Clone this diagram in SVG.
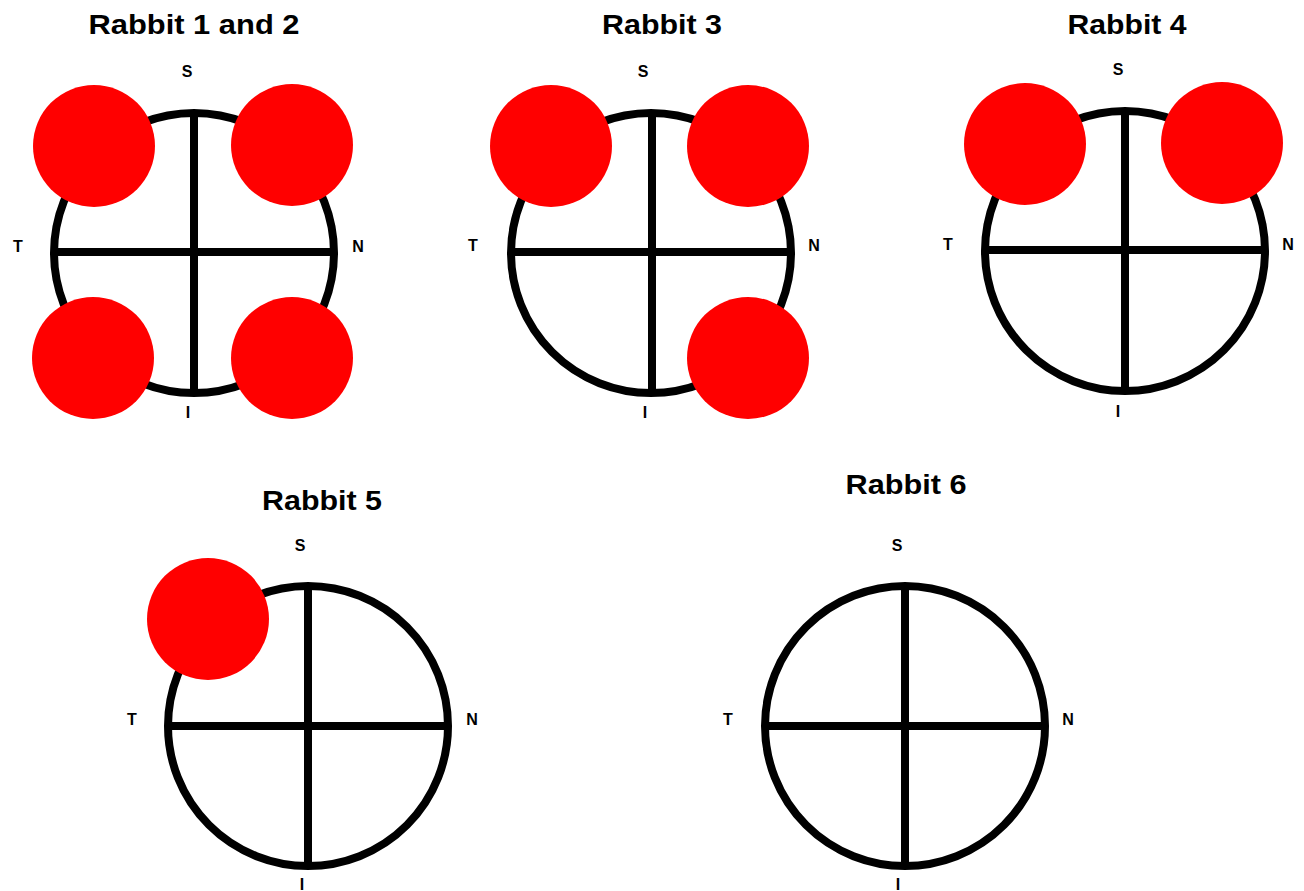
<svg xmlns="http://www.w3.org/2000/svg" width="1304" height="891" viewBox="0 0 1304 891">
<style>
.title{font-family:"Liberation Sans",Arial,sans-serif;font-weight:bold;font-size:28px;fill:#000;text-anchor:middle}
.lbl{font-family:"Liberation Sans",Arial,sans-serif;font-weight:bold;font-size:16px;fill:#000;text-anchor:middle}
.ring{fill:none;stroke:#000;stroke-width:8}
.axis{stroke:#000;stroke-width:8}
.dot{fill:#ff0000}
</style>
<rect width="1304" height="891" fill="#fff"/>
<g id="rabbit12">
<text class="title" x="194" y="34" textLength="211" lengthAdjust="spacingAndGlyphs">Rabbit 1 and 2</text>
<circle class="ring" cx="194" cy="253" r="140"/>
<line class="axis" x1="194" y1="113" x2="194" y2="393"/>
<line class="axis" x1="54" y1="252" x2="334" y2="252"/>
<text class="lbl" x="187" y="77">S</text>
<text class="lbl" x="18" y="252">T</text>
<text class="lbl" x="358" y="252">N</text>
<text class="lbl" x="188" y="418">I</text>
<circle class="dot" cx="94" cy="146" r="61"/>
<circle class="dot" cx="292" cy="145" r="61"/>
<circle class="dot" cx="93" cy="358" r="61"/>
<circle class="dot" cx="292" cy="358" r="61"/>
</g>
<g id="rabbit3">
<text class="title" x="662" y="34" textLength="120" lengthAdjust="spacingAndGlyphs">Rabbit 3</text>
<circle class="ring" cx="651" cy="253" r="140"/>
<line class="axis" x1="652" y1="113" x2="652" y2="393"/>
<line class="axis" x1="511" y1="252" x2="791" y2="252"/>
<text class="lbl" x="643" y="77">S</text>
<text class="lbl" x="473" y="251">T</text>
<text class="lbl" x="814" y="251">N</text>
<text class="lbl" x="645" y="418">I</text>
<circle class="dot" cx="551" cy="146" r="61"/>
<circle class="dot" cx="748" cy="146" r="61"/>
<circle class="dot" cx="748" cy="358" r="61"/>
</g>
<g id="rabbit4">
<text class="title" x="1127" y="34" textLength="119" lengthAdjust="spacingAndGlyphs">Rabbit 4</text>
<circle class="ring" cx="1125" cy="251" r="140"/>
<line class="axis" x1="1125" y1="111" x2="1125" y2="391"/>
<line class="axis" x1="985" y1="250" x2="1265" y2="250"/>
<text class="lbl" x="1118" y="75">S</text>
<text class="lbl" x="948" y="250">T</text>
<text class="lbl" x="1288" y="250">N</text>
<text class="lbl" x="1118" y="417">I</text>
<circle class="dot" cx="1025" cy="144" r="61"/>
<circle class="dot" cx="1222" cy="143" r="61"/>
</g>
<g id="rabbit5">
<text class="title" x="322" y="510" textLength="120" lengthAdjust="spacingAndGlyphs">Rabbit 5</text>
<circle class="ring" cx="308" cy="726" r="140"/>
<line class="axis" x1="308" y1="586" x2="308" y2="866"/>
<line class="axis" x1="168" y1="726" x2="448" y2="726"/>
<text class="lbl" x="300" y="551">S</text>
<text class="lbl" x="132" y="725">T</text>
<text class="lbl" x="472" y="725">N</text>
<text class="lbl" x="302" y="890">I</text>
<circle class="dot" cx="208" cy="619" r="61"/>
</g>
<g id="rabbit6">
<text class="title" x="906" y="494" textLength="121" lengthAdjust="spacingAndGlyphs">Rabbit 6</text>
<circle class="ring" cx="905" cy="726" r="140"/>
<line class="axis" x1="905" y1="586" x2="905" y2="866"/>
<line class="axis" x1="765" y1="726" x2="1045" y2="726"/>
<text class="lbl" x="897" y="551">S</text>
<text class="lbl" x="728" y="725">T</text>
<text class="lbl" x="1068" y="725">N</text>
<text class="lbl" x="898" y="890">I</text>
</g>
<g id="connectors"/>
</svg>
